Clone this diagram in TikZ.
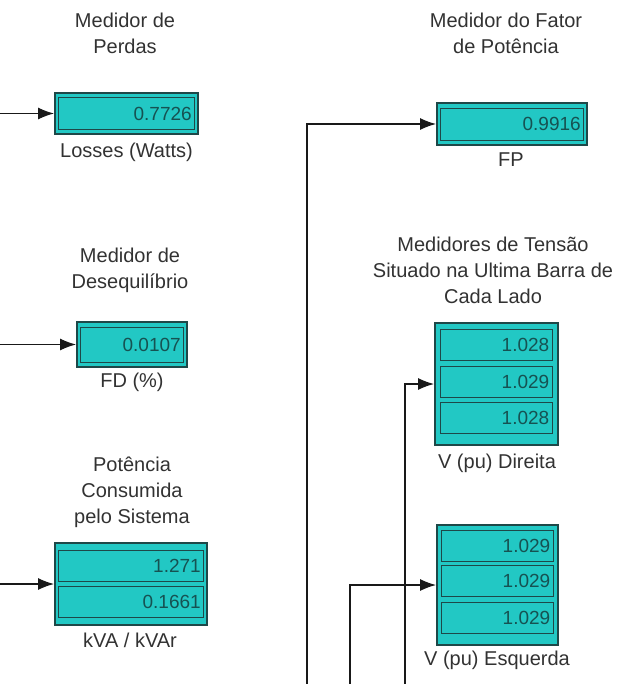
\documentclass[tikz,border=0pt]{standalone}
\usepackage{fontspec}
\setmainfont{Liberation Sans}
\usepackage{xcolor}
\usetikzlibrary{arrows.meta}

\definecolor{turq}{RGB}{34,200,196}
\definecolor{boxedge}{RGB}{30,72,72}
\definecolor{valtext}{RGB}{22,82,82}
\definecolor{lbltext}{RGB}{50,50,50}

\tikzset{
	meter/.style={draw=boxedge, line width=2pt, fill=turq, inner sep=0pt},
	cell/.style={draw=boxedge, line width=0.9pt, inner sep=0pt, minimum height=31pt},
	val/.style={anchor=east, text=valtext, font=\fontsize{19}{19}\selectfont, inner sep=0pt},
	lbl/.style={text=lbltext, font=\fontsize{20}{26}\selectfont, align=center, inner sep=0pt},
	sig/.style={-{Latex[length=16pt,width=12pt]}, line width=1.1pt, black!90}
}

\begin{document}
\begin{tikzpicture}[x=1pt, y=-1pt]
			\useasboundingbox (0,0) rectangle (616,684);

			\node[lbl] (perdasT) at (125,33) {Medidor de\\Perdas};
			\node[meter, minimum width=143pt, minimum height=41pt] (perdas) at (126.5,113.5) {};
			\node[cell, minimum width=136pt, minimum height=32pt] (perdasA) at (perdas.center) {};
			\node[val] (perdasV) at ([xshift=-3pt]perdasA.east) {0.7726};
			\node[lbl] (perdasL) at (126.5,152) {Losses (Watts)};

			\node[lbl] (desT) at (130,270) {Medidor de\\Desequilíbrio};
			\node[meter, minimum width=110pt, minimum height=45pt] (des) at (132,344.5) {};
			\node[cell, minimum width=103pt, minimum height=35pt] (desA) at (des.center) {};
			\node[val] (desV) at ([xshift=-3pt]desA.east) {0.0107};
			\node[lbl] (desL) at (132,382) {FD (\%)};

			\node[lbl] (potT) at (132,492) {Potência\\Consumida\\pelo Sistema};
			\node[meter, minimum width=152pt, minimum height=82pt] (pot) at (131,584) {};
			\node[cell, minimum width=145pt] (potA) at (131,565.5) {};
			\node[cell, minimum width=145pt] (potB) at (131,601.5) {};
			\node[val] (potVA) at ([xshift=-3pt]potA.east) {1.271};
			\node[val] (potVB) at ([xshift=-3pt]potB.east) {0.1661};
			\node[lbl] (potL) at (130,640) {kVA / kVAr};

			\node[lbl] (fpT) at (506,33) {Medidor do Fator\\de Potência};
			\node[meter, minimum width=150pt, minimum height=42pt] (fp) at (512,124) {};
			\node[cell, minimum width=143pt, minimum height=32pt] (fpA) at (fp.center) {};
			\node[val] (fpV) at ([xshift=-3pt]fpA.east) {0.9916};
			\node[lbl] (fpL) at (511,160) {FP};

			\node[lbl] (tensT) at (493,270) {Medidores de Tensão\\Situado na Ultima Barra de\\Cada Lado};
			\node[meter, minimum width=123pt, minimum height=122pt] (dir) at (496.5,384) {};
			\node[cell, minimum width=112pt] (dirA) at (496,345) {};
			\node[cell, minimum width=112pt] (dirB) at (496,381.5) {};
			\node[cell, minimum width=112pt] (dirC) at (496,418) {};
			\node[val] (dirVA) at ([xshift=-3pt]dirA.east) {1.028};
			\node[val] (dirVB) at ([xshift=-3pt]dirB.east) {1.029};
			\node[val] (dirVC) at ([xshift=-3pt]dirC.east) {1.028};
			\node[lbl] (dirL) at (497,463) {V (pu) Direita};

			\node[meter, minimum width=121pt, minimum height=120pt] (esq) at (497.5,585) {};
			\node[cell, minimum width=112pt] (esqA) at (497,545.5) {};
			\node[cell, minimum width=112pt] (esqB) at (497,581) {};
			\node[cell, minimum width=112pt] (esqC) at (497,618) {};
			\node[val] (esqVA) at ([xshift=-3pt]esqA.east) {1.029};
			\node[val] (esqVB) at ([xshift=-3pt]esqB.east) {1.029};
			\node[val] (esqVC) at ([xshift=-3pt]esqC.east) {1.029};
			\node[lbl] (esqL) at (497,660) {V (pu) Esquerda};

			\coordinate (inPerdas) at (0,113.5);
			\coordinate (inDes) at (0,344.5);
			\coordinate (inPot) at (0,584);
			\coordinate (inFp) at (307,684);
			\coordinate (inDir) at (405,684);
			\coordinate (inEsq) at (350,684);

			\begin{scope}[sig]
				\draw (inPerdas) -- (perdas.west);
				\draw (inDes) -- (des.west);
				\draw (inPot) -- (pot.west);
				\draw (inFp) |- (fp.west);
				\draw (inDir) |- (dir.west);
				\draw (inEsq) |- (esq.west);
			\end{scope}
		\end{tikzpicture}
\end{document}
